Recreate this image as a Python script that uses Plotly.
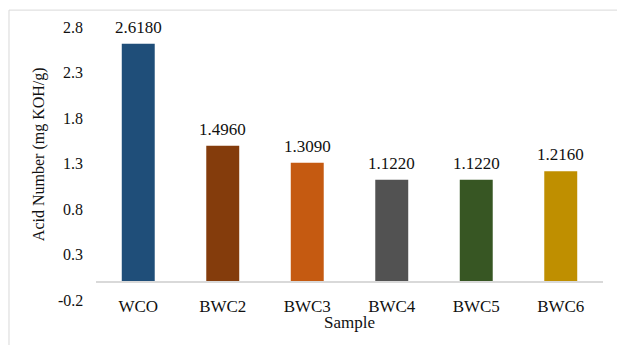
import plotly.graph_objects as go

# Acid number of waste cooking oil and blended samples
samples = ["WCO", "BWC2", "BWC3", "BWC4", "BWC5", "BWC6"]
acid_number = [2.618, 1.496, 1.309, 1.122, 1.122, 1.216]
bar_colors = ["#1F4E79", "#843C0C", "#C55A11", "#525252", "#375623", "#BF8F00"]
y_ticks = [-0.2, 0.3, 0.8, 1.3, 1.8, 2.3, 2.8]

SERIF = "Liberation Serif"
Y_MIN, Y_MAX = -0.2, 2.9
zero_pos = (0 - Y_MIN) / (Y_MAX - Y_MIN)

fig = go.Figure(
    go.Bar(
        x=samples,
        y=acid_number,
        marker=dict(color=bar_colors, line=dict(width=0)),
        hoverinfo="x+y",
    )
)

# value labels above each bar
for s, v in zip(samples, acid_number):
    fig.add_annotation(
        x=s, y=v, xref="x", yref="y",
        text=f"{v:.4f}", showarrow=False,
        yanchor="bottom", yshift=5,
        font=dict(family=SERIF, size=17, color="#111111"),
    )

# y tick labels, right-aligned a little left of the plot area
for t in y_ticks:
    fig.add_annotation(
        x=-0.0217, y=t, xref="paper", yref="y",
        text=f"{t:.1f}", showarrow=False,
        xanchor="right", yanchor="middle",
        font=dict(family=SERIF, size=16, color="#111111"),
    )

# y-axis title
fig.add_annotation(
    x=-0.112, y=0.518, xref="paper", yref="paper",
    text="Acid Number (mg KOH/g)", textangle=-90, showarrow=False,
    xanchor="center", yanchor="middle",
    font=dict(family=SERIF, size=16, color="#111111"),
)

# x-axis title
fig.add_annotation(
    x=0.5, y=-0.08, xref="paper", yref="paper",
    text="Sample", showarrow=False,
    xanchor="center", yanchor="middle",
    font=dict(family=SERIF, size=17, color="#111111"),
)

# outer chart frame
fig.add_shape(
    type="rect", xref="paper", yref="paper",
    x0=-0.1716, x1=1.2, y0=-0.3, y1=1.028,
    line=dict(color="#D9D9D9", width=1), fillcolor="rgba(0,0,0,0)",
    layer="below",
)

fig.update_layout(
    width=617, height=345,
    margin=dict(l=96, r=14, t=18, b=45),
    paper_bgcolor="white", plot_bgcolor="white",
    bargap=0.61,
    showlegend=False,
    font=dict(family=SERIF, color="#111111"),
    xaxis=dict(
        anchor="free", position=zero_pos,
        showline=True, linecolor="#D9D9D9", linewidth=1.5,
        ticks="outside", ticklen=9, tickcolor="rgba(0,0,0,0)",
        tickfont=dict(family=SERIF, size=17, color="#111111"),
        showgrid=False, zeroline=False, fixedrange=True,
    ),
    yaxis=dict(
        range=[Y_MIN, Y_MAX],
        tickvals=y_ticks, showticklabels=False, ticks="",
        showgrid=False, zeroline=False, showline=False, fixedrange=True,
    ),
)

fig.write_html("out.html")
